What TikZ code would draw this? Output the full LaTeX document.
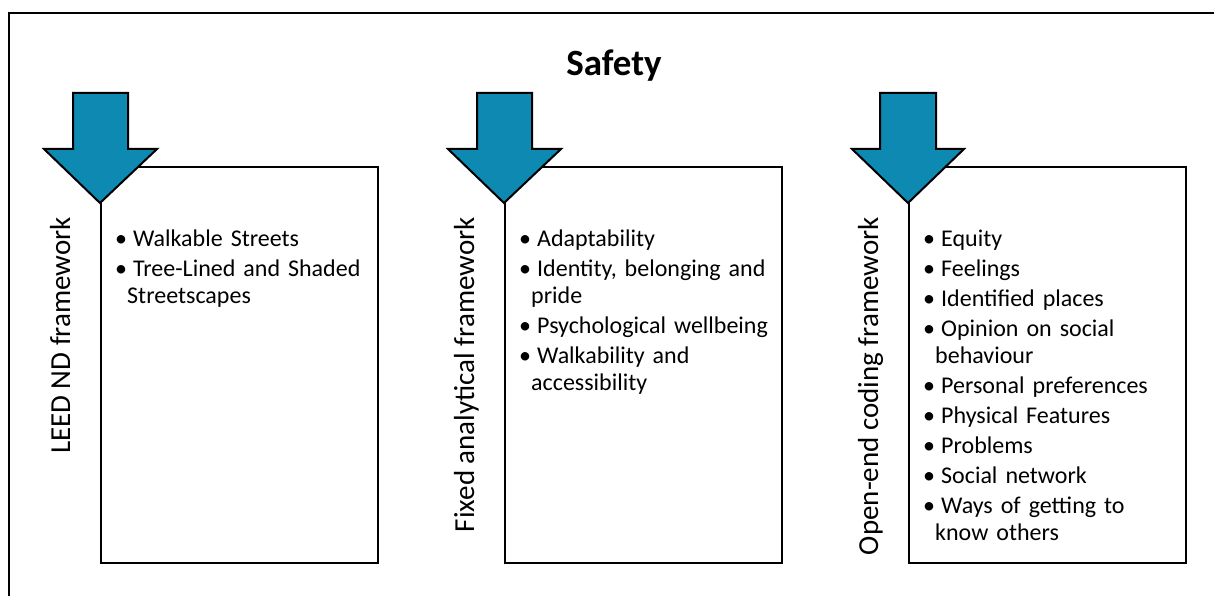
\documentclass[tikz,border=0pt]{standalone}
\usepackage{fontspec}
\setmainfont{Carlito}
\definecolor{arrowblue}{RGB}{14,137,178}
\newcommand{\bitem}[1]{\par\hangindent=12pt\hangafter=1\noindent\rule{0pt}{20pt}\makebox[18pt][l]{\textbullet}#1\par}
\tikzset{
  frameline/.style={draw=black, line width=2pt},
  panelbox/.style={draw=black, line width=2pt, anchor=north west, inner sep=0pt,
    minimum width=277pt, minimum height=396pt},
  downarrow/.style={fill=arrowblue, draw=black, line width=2pt, line join=miter},
  sidelabel/.style={rotate=90, anchor=base east, inner sep=0pt,
    font=\fontsize{29}{34}\selectfont},
  itemlist/.style={anchor=north west, inner sep=0pt, text width=258pt, align=left,
    font=\fontsize{24}{27}\selectfont\setlength{\parskip}{3pt}},
  titletext/.style={anchor=base, inner sep=0pt, font=\fontsize{37}{44}\bfseries\selectfont},
}
\begin{document}
\begin{tikzpicture}[x=1pt, y=-1pt]
\useasboundingbox (0,0) rectangle (1214,596);
\clip (0,0) rectangle (1214,596);
\fill[white] (0,0) rectangle (1214,596);
\draw[frameline] (9,640) -- (9,13) -- (1240,13);
\node[titletext] (title) at (614,76) {Safety};

% panel 1
\node[panelbox] (box1) at (100,166) {};
\coordinate (tip1) at (100,203);
\draw[downarrow] (73,93) -- (128,93) -- (128,149) -- (157,149) -- (tip1)
  -- (44,149) -- (73,149) -- cycle;
\node[sidelabel] (lab1) at (70,217) {LEED ND framework};
\node[itemlist] (list1) at (115,216) {%
\bitem{Walkable Streets}
\bitem{Tree-Lined and Shaded\newline Streetscapes}};

% panel 2
\node[panelbox] (box2) at (504,166) {};
\coordinate (tip2) at (504,203);
\draw[downarrow] (477,93) -- (532,93) -- (532,149) -- (561,149) -- (tip2)
  -- (448,149) -- (477,149) -- cycle;
\node[sidelabel] (lab2) at (474,217) {Fixed analytical framework};
\node[itemlist] (list2) at (519,216) {%
\bitem{Adaptability}
\bitem{Identity, belonging and\newline pride}
\bitem{Psychological wellbeing}
\bitem{Walkability and\newline accessibility}};

% panel 3
\node[panelbox] (box3) at (908,166) {};
\coordinate (tip3) at (908,203);
\draw[downarrow] (880,93) -- (936,93) -- (936,149) -- (964,149) -- (tip3)
  -- (852,149) -- (880,149) -- cycle;
\node[sidelabel] (lab3) at (878,217) {Open-end coding framework};
\node[itemlist] (list3) at (923,216) {%
\bitem{Equity}
\bitem{Feelings}
\bitem{Identified places}
\bitem{Opinion on social\newline behaviour}
\bitem{Personal preferences}
\bitem{Physical Features}
\bitem{Problems}
\bitem{Social network}
\bitem{Ways of getting to\newline know others}};
\end{tikzpicture}
\end{document}
